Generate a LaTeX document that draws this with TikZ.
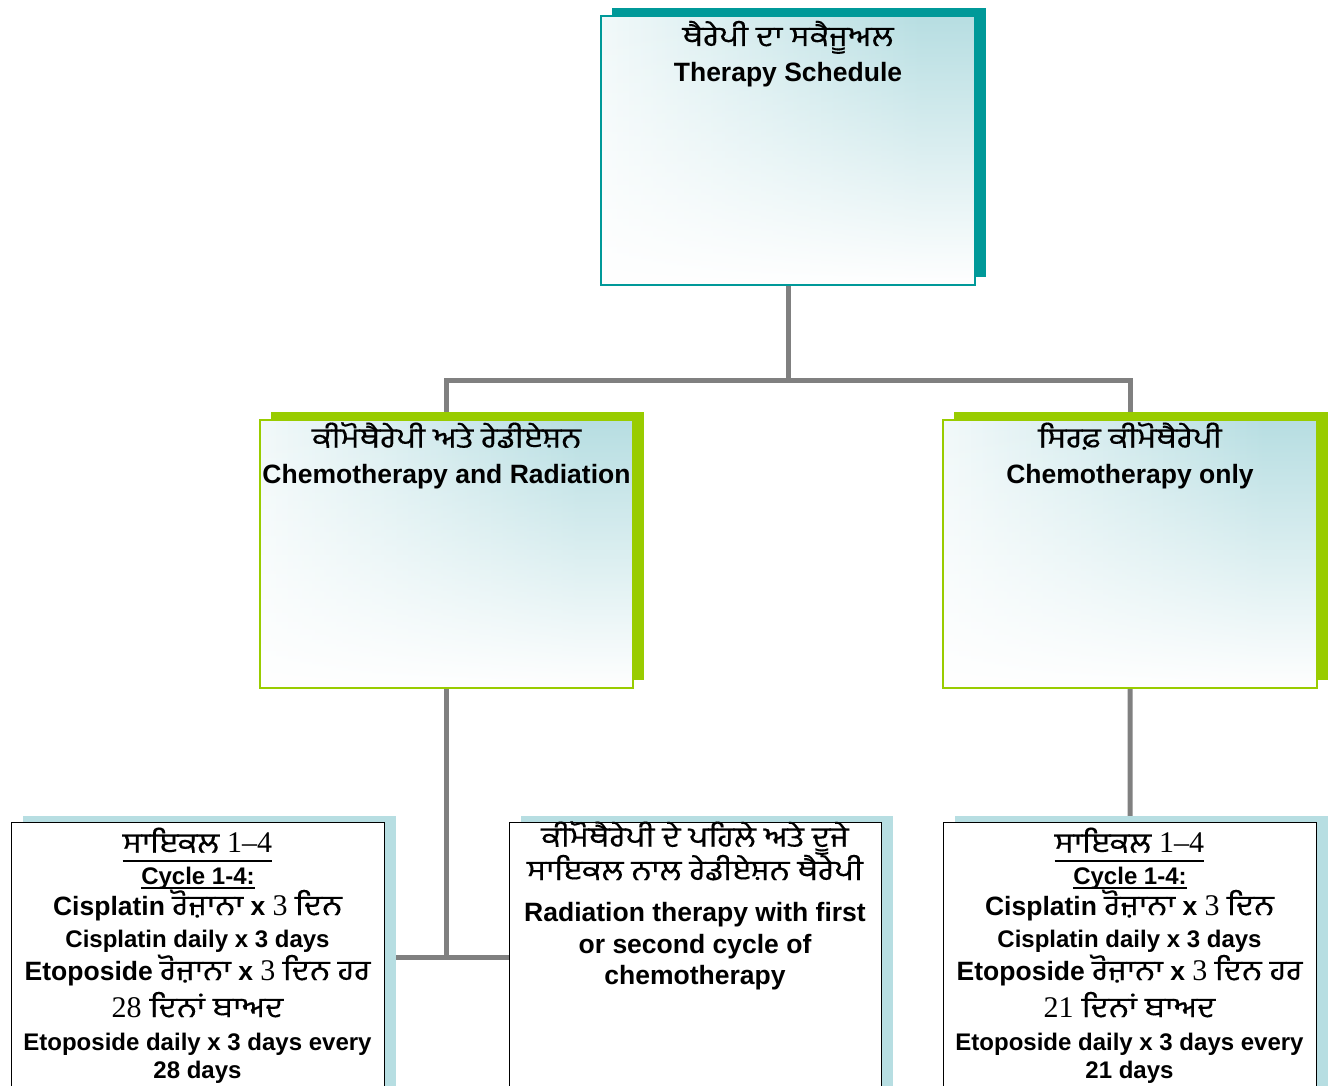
\documentclass[tikz,border=0pt]{standalone}
\usepackage{fontspec}
\setmainfont{Liberation Sans}
\newfontfamily\gurfont[Script=Gurmukhi, FakeBold=0.35, FakeStretch=1.18]{Hind Jalandhar}
\newfontfamily\digfont{Liberation Serif}
\usetikzlibrary{shadows,fadings,calc,backgrounds}
\definecolor{tealD}{RGB}{0,153,153}
\definecolor{limeG}{RGB}{153,204,0}
\definecolor{paleB}{RGB}{183,222,226}
\definecolor{connG}{RGB}{128,128,128}
\pgfdeclarehorizontalshading{boxgrad}{100bp}{color(0bp)=(white); color(15bp)=(white); color(68bp)=(paleB); color(100bp)=(paleB)}
\tikzfading[name=fadedown, top color=transparent!100, bottom color=transparent!0]
\newcommand\gurm[1]{{\fontsize{28}{32}\selectfont\gurfont\mdseries #1}}
\newcommand\numr[1]{{\fontsize{30}{34}\selectfont\digfont\mdseries #1}}
\begin{document}
\begin{tikzpicture}[x=1pt,y=-1pt,
  gbox/.style={draw=#1, line width=1.3pt, shade, shading=boxgrad, inner sep=0pt,
    path picture={\fill[white,path fading=fadedown] (path picture bounding box.south west) rectangle (path picture bounding box.north east);},
    general shadow={fill=#1, shadow xshift=11pt, shadow yshift=8pt}},
  wbox/.style={draw=black, line width=1.3pt, fill=white, inner sep=0pt, anchor=north west,
    minimum height=290pt, general shadow={fill=paleB, shadow xshift=11pt, shadow yshift=7pt}},
  conn/.style={draw=connG, line width=5pt},
  big/.style={anchor=base, inner sep=0pt, font=\fontsize{26.5}{30}\selectfont\bfseries},
  small/.style={anchor=base, inner sep=0pt, font=\fontsize{24}{28}\selectfont\bfseries},
  gtxt/.style={anchor=base, inner sep=0pt, font=\fontsize{28}{32}\selectfont\gurfont},
  uline/.style={draw=black, line width=1.8pt}
]
\useasboundingbox (0,0) rectangle (1333,1086);
% main boxes
\node[gbox=tealD, minimum width=374pt, minimum height=269pt] (top) at (788,150.5) {};
\node[gbox=limeG, minimum width=373pt, minimum height=268pt] (ml) at (446.5,554) {};
\node[gbox=limeG, minimum width=374pt, minimum height=268pt] (mr) at (1130,554) {};
\node[wbox, minimum width=373pt] (bl) at (11,822) {};
\node[wbox, minimum width=372pt] (bm) at (509,822) {};
\node[wbox, minimum width=373pt] (br) at (943,822) {};
% connectors
\coordinate (j1) at (788,380);
\coordinate (j2) at (446.5,957);
\begin{scope}[on background layer]
\draw[conn] (top.south) -- (j1);
\draw[conn] (j1) -| (ml.north);
\draw[conn] (j1) -| (mr.north);
\draw[conn] (ml.south) -- (j2);
\draw[conn] (bl.east |- j2) -- (bm.west |- j2);
\draw[conn] (mr.south) -- (br.north);
\end{scope}
% top text
\node[gtxt] (t1) at (788,46) {ਥੈਰੇਪੀ ਦਾ ਸਕੈਜੂਅਲ};
\node[big] (t2) at (788,81.7) {Therapy Schedule};
% middle left
\node[gtxt] (l1) at (446.5,447.7) {ਕੀਮੋਥੈਰੇਪੀ ਅਤੇ ਰੇਡੀਏਸ਼ਨ};
\node[big] (l2) at (446.5,483.3) {Chemotherapy and Radiation};
% middle right
\node[gtxt] (r1) at (1130,447.7) {ਸਿਰਫ਼ ਕੀਮੋਥੈਰੇਪੀ};
\node[big] (r2) at (1130,483.3) {Chemotherapy only};
% bottom left
\node[gtxt] (a1) at (197.5,852.7) {ਸਾਇਕਲ \numr{1–4}};
\draw[uline] ($(a1.base west)+(0,8)$) -- ($(a1.base east)+(0,8)$);
\node[small] (a2) at (198,884) {Cycle 1-4:};
\draw[uline] ($(a2.base west)+(0,4)$) -- ($(a2.base east)+(0,4)$);
\node[big] (a3) at (197.5,915) {Cisplatin \gurm{ਰੋਜ਼ਾਨਾ} x \numr{3} \gurm{ਦਿਨ}};
\node[small] (a4) at (197.5,947.7) {Cisplatin daily x 3 days};
\node[big] (a5) at (197.5,980) {Etoposide \gurm{ਰੋਜ਼ਾਨਾ} x \numr{3} \gurm{ਦਿਨ ਹਰ}};
\node[gtxt] (a6) at (197.5,1017) {\numr{28} ਦਿਨਾਂ ਬਾਅਦ};
\node[small] (a7) at (197.5,1050) {Etoposide daily x 3 days every};
\node[small] (a8) at (197.5,1078) {28 days};
% bottom middle
\node[gtxt] (b1) at (695,846.7) {ਕੀਮੋਥੈਰੇਪੀ ਦੇ ਪਹਿਲੇ ਅਤੇ ਦੂਜੇ};
\node[gtxt] (b2) at (695,880) {ਸਾਇਕਲ ਨਾਲ ਰੇਡੀਏਸ਼ਨ ਥੈਰੇਪੀ};
\node[big] (b3) at (695,921.7) {Radiation therapy with first};
\node[big] (b4) at (695,953) {or second cycle of};
\node[big] (b5) at (695,984) {chemotherapy};
% bottom right
\node[gtxt] (c1) at (1129.5,852.7) {ਸਾਇਕਲ \numr{1–4}};
\draw[uline] ($(c1.base west)+(0,8)$) -- ($(c1.base east)+(0,8)$);
\node[small] (c2) at (1130,884) {Cycle 1-4:};
\draw[uline] ($(c2.base west)+(0,4)$) -- ($(c2.base east)+(0,4)$);
\node[big] (c3) at (1129.5,915) {Cisplatin \gurm{ਰੋਜ਼ਾਨਾ} x \numr{3} \gurm{ਦਿਨ}};
\node[small] (c4) at (1129.5,947.7) {Cisplatin daily x 3 days};
\node[big] (c5) at (1129.5,980) {Etoposide \gurm{ਰੋਜ਼ਾਨਾ} x \numr{3} \gurm{ਦਿਨ ਹਰ}};
\node[gtxt] (c6) at (1129.5,1017) {\numr{21} ਦਿਨਾਂ ਬਾਅਦ};
\node[small] (c7) at (1129.5,1050) {Etoposide daily x 3 days every};
\node[small] (c8) at (1129.5,1078) {21 days};
\end{tikzpicture}
\end{document}
